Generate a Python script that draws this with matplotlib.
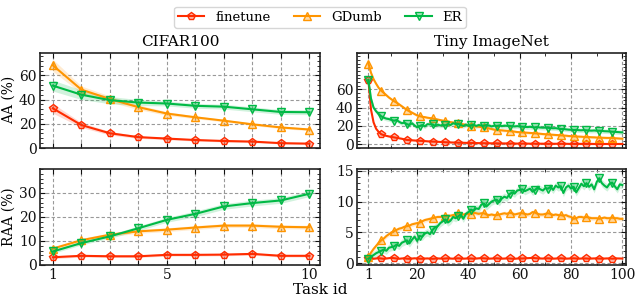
import matplotlib
matplotlib.use("Agg")
import matplotlib.pyplot as plt
from matplotlib.colors import to_rgba
from matplotlib.ticker import AutoMinorLocator, FixedLocator
import numpy as np

plt.rcParams['font.family'] = ['DejaVu Serif']

methods = ["finetune", "GDumb", "ER"]
colors = {"finetune": "#FF2C00", "GDumb": "#FF9500", "ER": "#00B945"}
markers = {"finetune": "p", "GDumb": "^", "ER": "v"}

cifar_tasks = list(range(1, 11))
tiny_tasks = list(range(1, 101))

cifar_aa = {
    "finetune": [32.8, 19.0, 12.2, 9.0, 7.8, 6.6, 5.8, 5.3, 4.0, 3.6],
    "GDumb": [68.4, 48.3, 40.5, 33.8, 28.5, 25.4, 22.6, 19.6, 17.0, 15.3],
    "ER": [51.6, 44.1, 39.6, 37.6, 36.8, 34.9, 34.2, 32.0, 29.8, 29.6],
}
cifar_aa_std = {
    "finetune": [4.0, 2.0, 1.5, 1.0, 1.0, 0.8, 0.8, 0.8, 0.7, 0.7],
    "GDumb": [5.0, 3.0, 2.5, 2.0, 1.5, 1.2, 1.0, 1.0, 1.0, 1.0],
    "ER": [4.5, 4.0, 3.0, 2.5, 2.0, 2.0, 2.0, 2.0, 2.0, 2.0],
}
cifar_raa = {
    "finetune": [3.2, 3.8, 3.6, 3.6, 4.2, 4.2, 4.3, 4.6, 3.8, 3.8],
    "GDumb": [6.8, 10.3, 12.6, 14.0, 14.7, 15.6, 16.4, 16.4, 15.9, 15.7],
    "ER": [5.6, 9.1, 11.9, 15.3, 18.8, 21.3, 24.4, 25.8, 26.9, 29.7],
}
cifar_raa_std = {
    "finetune": [0.6, 0.5, 0.5, 0.5, 0.5, 0.5, 0.5, 0.5, 0.5, 0.5],
    "GDumb": [0.8, 0.8, 0.8, 0.8, 0.8, 0.8, 0.8, 0.8, 0.8, 0.8],
    "ER": [0.8, 0.8, 0.8, 1.0, 1.0, 1.2, 1.2, 1.2, 1.2, 1.2],
}

tiny_aa = {
    "finetune": [70, 38, 24, 17, 13.5, 11, 10, 9.2, 8.6, 8.0,
                 7.6, 7.1, 6.6, 6.1, 5.4, 4.8, 4.6, 4.4, 4.2, 4.0,
                 3.9, 3.7, 3.5, 3.3, 3.1, 3.0, 2.9, 2.8, 2.6, 2.5,
                 2.3, 2.2, 2.1, 2.0, 1.9, 1.8, 1.8, 1.7, 1.6, 1.5,
                 1.5, 1.4, 1.4, 1.3, 1.3, 1.2, 1.2, 1.2, 1.1, 1.1,
                 1.1, 1.0, 1.0, 1.0, 0.9, 0.9, 0.9, 0.9, 0.8, 0.8,
                 0.8, 0.8, 0.8, 0.7, 0.7, 0.7, 0.7, 0.7, 0.7, 0.6,
                 0.6, 0.6, 0.6, 0.6, 0.6, 0.6, 0.5, 0.6, 0.5, 0.5,
                 0.5, 0.5, 0.5, 0.5, 0.5, 0.5, 0.5, 0.5, 0.4, 0.5,
                 0.4, 0.4, 0.4, 0.4, 0.4, 0.4, 0.4, 0.4, 0.4, 0.4],
    "GDumb": [88, 78, 71, 66, 61.5, 58.5, 56, 53.5, 51, 49,
              47, 45.5, 43.5, 41.5, 39.5, 37.5, 36, 34.5, 33, 31.5,
              30.7, 30, 29.6, 29, 28.6, 28.2, 27.6, 27, 26.4, 25.8,
              25.3, 24.8, 24.2, 23.8, 23.3, 22.8, 22.3, 21.8, 21.2, 20.7,
              20.2, 19.9, 19.5, 19.2, 18.8, 18.4, 17.9, 17.3, 16.7, 16.0,
              15.5, 15.4, 15.2, 14.9, 14.7, 14.5, 14.2, 13.8, 13.4, 13.2,
              13.0, 12.8, 12.6, 12.4, 12.2, 12.0, 11.8, 11.5, 11.2, 11.0,
              10.8, 10.6, 10.4, 10.2, 10.0, 9.8, 9.6, 9.4, 9.1, 8.9,
              8.7, 8.6, 8.4, 8.3, 8.1, 8.0, 7.9, 7.7, 7.6, 7.4,
              7.2, 7.2, 7.1, 7.0, 7.0, 6.9, 6.7, 6.5, 6.3, 6.1],
    "ER": [70, 50, 40, 36, 33, 30.5, 29, 28, 27.5, 26.5,
           25.7, 26.5, 24.5, 23, 23.5, 22, 21, 23, 20.5, 18.5,
           20, 21, 19.5, 22, 21.7, 21.7, 20, 21.5, 20.5, 21,
           20.6, 22, 21, 23, 22, 22.4, 21, 20, 21.5, 20,
           20.6, 21.5, 20, 21, 20.5, 20.2, 21, 20.5, 19.5, 20.3,
           20, 20.5, 19.8, 20.3, 20.1, 20, 19.7, 19.5, 19.8, 19.4,
           19.2, 19.0, 18.8, 19.1, 18.6, 18.4, 18.6, 18.3, 18.1, 18.2,
           18.0, 17.7, 17.5, 17.6, 17.1, 16.6, 16.7, 16.3, 16.0, 15.8,
           15.5, 15.7, 15.4, 15.3, 15.5, 15.2, 15.0, 14.9, 15.1, 14.8,
           14.8, 14.6, 14.3, 14.2, 14.0, 13.7, 13.6, 13.4, 13.2, 13.0],
}
tiny_aa_band = {"finetune": 0.8, "GDumb": 1.5, "ER": 2.5}

tiny_raa = {
    "finetune": [0.80, 0.75, 0.70, 0.75, 0.80, 0.75, 0.70, 0.75, 0.80, 0.85,
                 0.80, 0.75, 0.70, 0.75, 0.78, 0.72, 0.70, 0.74, 0.78, 0.75,
                 0.72, 0.70, 0.74, 0.76, 0.72, 0.70, 0.73, 0.76, 0.74, 0.72,
                 0.75, 0.78, 0.74, 0.72, 0.76, 0.78, 0.75, 0.72, 0.74, 0.76,
                 0.75, 0.72, 0.74, 0.78, 0.80, 0.78, 0.75, 0.72, 0.74, 0.76,
                 0.78, 0.75, 0.72, 0.74, 0.76, 0.75, 0.72, 0.70, 0.74, 0.76,
                 0.75, 0.78, 0.80, 0.82, 0.85, 0.80, 0.78, 0.75, 0.74, 0.76,
                 0.78, 0.75, 0.72, 0.74, 0.76, 0.78, 0.75, 0.72, 0.74, 0.76,
                 0.78, 0.75, 0.72, 0.74, 0.76, 0.75, 0.72, 0.74, 0.76, 0.75,
                 0.74, 0.72, 0.74, 0.76, 0.75, 0.72, 0.74, 0.76, 0.75, 0.74],
    "GDumb": [1.0, 1.7, 2.3, 2.8, 3.3, 3.7, 4.0, 4.4, 4.7, 5.0,
              5.2, 5.4, 5.6, 5.7, 5.9, 6.0, 6.1, 6.3, 6.4, 6.5,
              6.6, 6.8, 7.0, 7.1, 7.2, 7.3, 7.4, 7.5, 7.5, 7.6,
              7.6, 7.7, 7.7, 7.8, 7.9, 8.1, 8.0, 7.9, 8.0, 8.0,
              8.0, 8.2, 8.1, 8.0, 8.1, 8.1, 7.9, 7.8, 7.9, 7.8,
              7.8, 7.9, 8.0, 8.1, 8.0, 8.2, 8.1, 7.9, 8.0, 8.1,
              8.1, 8.0, 7.9, 8.0, 8.3, 8.2, 8.0, 7.9, 7.9, 8.0,
              8.1, 8.0, 7.8, 7.9, 7.8, 7.8, 7.7, 7.8, 7.6, 7.5,
              7.2, 7.3, 7.5, 7.5, 7.4, 7.5, 7.4, 7.3, 7.3, 7.3,
              7.2, 7.3, 7.4, 7.3, 7.3, 7.4, 7.3, 7.3, 7.2, 7.2],
    "ER": [0.7, 1.0, 1.3, 1.6, 1.8, 2.0, 2.2, 2.0, 2.5, 2.6,
           2.7, 3.0, 2.8, 3.3, 3.5, 3.7, 3.2, 3.8, 4.3, 3.6,
           4.4, 4.3, 4.8, 5.0, 4.7, 5.4, 5.8, 6.0, 6.5, 6.8,
           7.1, 6.6, 6.9, 7.5, 7.3, 7.6, 7.9, 7.2, 8.0, 8.3,
           8.7, 8.5, 8.9, 8.8, 9.5, 9.7, 9.2, 9.6, 10.0, 10.2,
           10.3, 9.9, 10.5, 10.8, 10.6, 11.2, 11.5, 11.3, 11.8, 11.9,
           12.0, 11.7, 11.9, 12.1, 11.6, 11.9, 12.3, 12.0, 11.8, 12.2,
           12.1, 12.4, 11.9, 12.6, 12.3, 12.5, 11.4, 12.3, 12.6, 12.1,
           12.4, 11.5, 12.2, 12.9, 12.5, 13.0, 12.4, 12.8, 12.0, 13.2,
           13.8, 13.0, 12.6, 12.3, 12.9, 13.1, 12.5, 12.0, 12.8, 12.7],
}
tiny_raa_band = {"finetune": 0.1, "GDumb": 0.35, "ER": 0.6}

fig = plt.figure(figsize=(6.4, 2.96), dpi=100)
ax_c_aa = fig.add_axes([0.0625, 0.5, 0.4375, 0.3226])
ax_t_aa = fig.add_axes([0.558, 0.5, 0.4205, 0.3226])
ax_c_raa = fig.add_axes([0.0625, 0.105, 0.4375, 0.324])
ax_t_raa = fig.add_axes([0.558, 0.105, 0.4205, 0.324])


def draw(ax, x, data, band, markevery):
    x = np.array(x)
    for m in methods:
        y = np.array(data[m], dtype=float)
        b = np.array(band[m], dtype=float)
        c = colors[m]
        ax.fill_between(x, y - b, y + b, color=c, alpha=0.18, lw=0)
        ax.plot(x, y, color=c, lw=1.5, marker=markers[m], markersize=5.5,
                markevery=markevery, markerfacecolor=to_rgba(c, 0.35),
                markeredgecolor=c, markeredgewidth=1.0, label=m)


draw(ax_c_aa, cifar_tasks, cifar_aa, cifar_aa_std, 1)
draw(ax_c_raa, cifar_tasks, cifar_raa, cifar_raa_std, 1)
draw(ax_t_aa, tiny_tasks, tiny_aa, tiny_aa_band, 5)
draw(ax_t_raa, tiny_tasks, tiny_raa, tiny_raa_band, 5)

for ax in [ax_c_aa, ax_c_raa]:
    ax.set_xlim(0.55, 10.37)
    ax.set_xticks(cifar_tasks)
    ax.set_xticklabels(["1", "", "", "", "5", "", "", "", "", "10"])
for ax in [ax_t_aa, ax_t_raa]:
    ax.set_xlim(-3.4, 101.5)
    ax.set_xticks([1, 20, 40, 60, 80, 100])
    ax.xaxis.set_minor_locator(FixedLocator([10, 30, 50, 70, 90]))

ax_c_aa.set_ylim(0, 79)
ax_c_aa.set_yticks([0, 20, 40, 60])
ax_c_raa.set_ylim(0, 40)
ax_c_raa.set_yticks([0, 10, 20, 30])
ax_t_aa.set_ylim(-4, 100)
ax_t_aa.set_yticks([0, 20, 40, 60])
ax_t_raa.set_ylim(-0.3, 15.3)
ax_t_raa.set_yticks([0, 5, 10, 15])

for ax in [ax_c_aa, ax_t_aa]:
    ax.tick_params(labelbottom=False)

for ax in [ax_c_aa, ax_t_aa, ax_c_raa, ax_t_raa]:
    ax.yaxis.set_minor_locator(AutoMinorLocator(5))
    ax.grid(True, which="major", ls=(0, (3, 2)), color="#999999", lw=0.8)
    ax.tick_params(which="both", direction="in", top=True, right=True,
                   labelsize=10, colors="#111111")
    ax.tick_params(which="major", length=3.5, width=0.8, pad=2.5)
    ax.tick_params(which="minor", length=2, width=0.6)
    for s in ax.spines.values():
        s.set_linewidth(1.2)
        s.set_color("#222222")
    ax.set_axisbelow(True)

ax_c_aa.set_title("CIFAR100", fontsize=11, pad=5)
ax_t_aa.set_title("Tiny ImageNet", fontsize=11, pad=5)
ax_c_aa.set_ylabel("AA (%)", fontsize=10, labelpad=2)
ax_c_raa.set_ylabel("RAA (%)", fontsize=10, labelpad=2)
fig.text(0.5, 0.008, "Task id", ha="center", va="baseline", fontsize=11)

handles, labels = ax_c_aa.get_legend_handles_labels()
fig.legend(handles, labels, loc="upper center", bbox_to_anchor=(0.5, 1.0),
           ncol=3, fontsize=9.5, frameon=True, edgecolor="#cccccc",
           fancybox=True, columnspacing=1.8, handlelength=2.0,
           borderpad=0.3, handletextpad=0.8)

fig.savefig("out.png", dpi=100)
